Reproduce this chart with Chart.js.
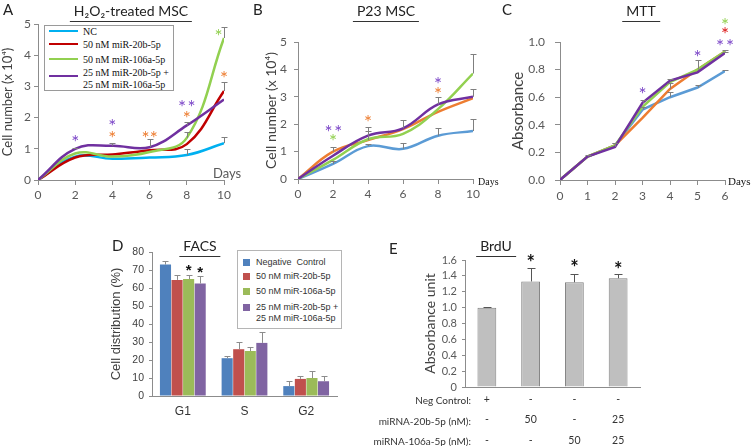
<!DOCTYPE html>
<html>
<head>
<meta charset="utf-8">
<script src="https://cdn.jsdelivr.net/npm/chart.js@4.4.0/dist/chart.umd.min.js"></script>
<style>
body { margin: 0; background: #fff; }
#wrap { position: relative; width: 755px; height: 446px; overflow: hidden; }
canvas { position: absolute; }
.t { position: absolute; white-space: nowrap; line-height: 1; }
</style>
</head>
<body>
<div id="wrap"></div>
<script>
// ---------- data ----------
// A: H2O2-treated MSC, cell number (x 10^4)
const daysAB = [0, 2, 4, 6, 8, 10];
const aNC     = [0, 0.75, 0.68, 0.72, 0.80, 1.18];
const aMir20  = [0, 0.72, 0.82, 0.95, 1.15, 2.85];
const aMir106 = [0, 0.85, 0.75, 0.90, 1.35, 4.55];
const aCombo  = [0, 1.00, 1.10, 1.05, 1.75, 2.58];
const aErrNC     = [0, 0, 0, 0, 0.18, 0.20];
const aErrMir20  = [0, 0, 0, 0, 0, 0.30];
const aErrMir106 = [0, 0, 0, 0, 0.20, 0.35];
const aErrCombo  = [0, 0.04, 0.08, 0.25, 0.10, 0];

// B: P23 MSC
const bNC     = [0, 0.55, 1.20, 1.10, 1.58, 1.75];
const bMir20  = [0, 1.00, 1.42, 1.82, 2.45, 2.95];
const bMir106 = [0, 0.70, 1.45, 1.65, 2.55, 3.85];
const bCombo  = [0, 0.85, 1.58, 1.85, 2.72, 3.00];
const bErrNC     = [0, 0.12, 0.08, 0.20, 0.27, 0.45];
const bErrMir20  = [0, 0.18, 0.33, 0, 0, 0];
const bErrMir106 = [0, 0, 0, 0, 0, 0.70];
const bErrCombo  = [0, 0, 0.32, 0.30, 0.28, 0.27];

// C: MTT absorbance
const daysC = [0, 1, 2, 3, 4, 5, 6];
const cNC     = [0, 0.17, 0.25, 0.51, 0.60, 0.67, 0.79];
const cMir20  = [0, 0.17, 0.25, 0.45, 0.66, 0.80, 0.93];
const cMir106 = [0, 0.17, 0.25, 0.53, 0.71, 0.80, 0.93];
const cCombo  = [0, 0.17, 0.24, 0.56, 0.72, 0.78, 0.92];
const cErrNC     = [0, 0.01, 0.02, 0.02, 0.04, 0.02, 0.01];
const cErrMir20  = [0, 0, 0, 0, 0.04, 0, 0.01];
const cErrMir106 = [0, 0, 0, 0, 0, 0.07, 0];
const cErrCombo  = [0, 0, 0.03, 0.02, 0.01, 0, 0.01];

// D: FACS cell distribution (%)
const phases = ['G1', 'S', 'G2'];
const dNC     = [73, 21, 5.5];
const dMir20  = [64.5, 26, 9.5];
const dMir106 = [65, 25, 10];
const dCombo  = [62.5, 29.5, 8.2];
const dErrNC     = [2, 1.5, 3];
const dErrMir20  = [3, 4, 1.5];
const dErrMir106 = [2, 2, 4];
const dErrCombo  = [4, 6, 3];

// E: BrdU absorbance unit
const negRow    = ['+', '-', '-', '-'];
const mir20Row  = ['-', '50', '-', '25'];
const mir106Row = ['-', '-', '50', '25'];
const eValues = [1.0, 1.33, 1.32, 1.37];
const eErr    = [0.005, 0.17, 0.10, 0.05];

// significance marks: [x, y, colour key]
const starsA = [[2, 1.34, 'p'], [4, 1.84, 'p'], [4, 1.47, 'o'], [5.78, 1.47, 'o'], [6.22, 1.47, 'o'],
                [7.75, 2.44, 'p'], [8.25, 2.44, 'p'], [8, 2.09, 'o'], [9.7, 4.73, 'g'], [10, 3.37, 'o']];
const starsB = [[1.75, 1.85, 'p'], [2.3, 1.85, 'p'], [2, 1.51, 'g'], [4, 2.21, 'o'], [8, 3.6, 'p'], [8, 3.24, 'o']];
const starsC = [[3, 0.65, 'p'], [5, 0.92, 'p'], [6, 1.15, 'g'], [6, 1.08, 'r'], [5.82, 1.0, 'p'], [6.18, 1.0, 'p']];
const starsD = [[2, 0, 71], [3, 0, 70]];   // [dataset, index, y]
const starsE = [[1, 1.62], [2, 1.56], [3, 1.54]];

// ---------- styles ----------
const C_NC_A = 'rgb(0,176,240)', C_RED = 'rgb(192,0,0)';
const C_NC = 'rgb(91,155,213)', C_ORANGE = 'rgb(237,125,49)';
const C_GREEN = 'rgb(146,208,80)', C_PURPLE = 'rgb(112,48,160)';
const starCol = { p: 'rgb(125,72,200)', o: 'rgb(237,125,49)', g: 'rgb(146,208,80)', r: 'rgb(220,25,25)', k: '#111' };

const wrap = document.getElementById('wrap');

// error bars + asterisks, drawn through the chart scales
const marks = {
  id: 'marks',
  afterDatasetsDraw(chart, args, opts) {
    const ctx = chart.ctx, xs = chart.scales.x, ys = chart.scales.y;
    ctx.save();
    ctx.strokeStyle = opts.errColor || '#7f7f7f';
    ctx.lineWidth = 1;
    chart.data.datasets.forEach((ds, di) => {
      if (!ds.err) return;
      const meta = chart.getDatasetMeta(di);
      ds.err.forEach((e, i) => {
        if (!e) return;
        const d = ds.data[i];
        const v = typeof d === 'object' ? d.y : d;
        const px = Math.round(meta.data[i].x) + 0.5;
        const y0 = ys.getPixelForValue(v), y1 = Math.round(ys.getPixelForValue(v + e)) + 0.5;
        const cap = opts.cap || 3;
        ctx.beginPath();
        ctx.moveTo(px, y0); ctx.lineTo(px, y1);
        ctx.moveTo(px - cap, y1); ctx.lineTo(px + cap, y1);
        ctx.stroke();
      });
    });
    ctx.font = opts.starFont || '18px Lato';
    ctx.textAlign = 'center';
    ctx.textBaseline = 'alphabetic';
    const m = ctx.measureText('*');
    const off = (m.actualBoundingBoxAscent - m.actualBoundingBoxDescent) / 2;
    (opts.stars || []).forEach(s => {
      let px, py, col;
      if (opts.byDataset) {
        px = chart.getDatasetMeta(s[0]).data[s[1]].x; py = ys.getPixelForValue(s[2]); col = starCol.k;
      } else {
        px = xs.getPixelForValue(s[0]); py = ys.getPixelForValue(s[1]); col = starCol[s[2] || 'k'];
      }
      ctx.fillStyle = col;
      ctx.fillText('*', px, py + off);
    });
    ctx.restore();
  }
};

function addCanvas(l, t, w, h) {
  const c = document.createElement('canvas');
  c.width = w; c.height = h;
  c.style.left = l + 'px'; c.style.top = t + 'px';
  c.style.width = w + 'px'; c.style.height = h + 'px';
  wrap.appendChild(c);
  return c;
}

function axis(o) {
  const a = {
    type: o.type || 'linear',
    offset: !!o.offset,
    afterFit: s => { if (s.isHorizontal()) s.height = o.size; else s.width = o.size; },
    border: { color: o.line || '#8c8c8c', width: 1 },
    grid: { drawOnChartArea: false, drawTicks: o.tick > 0, tickLength: o.tick || 0, color: o.line || '#8c8c8c' },
    ticks: { padding: o.pad, color: o.color || '#595959', font: o.font, autoSkip: false, maxRotation: 0 },
    title: o.title ? { display: true, text: o.title, color: '#404040', font: o.titleFont, padding: 0 } : { display: false }
  };
  if (o.min !== undefined) { a.min = o.min; a.max = o.max; }
  if (o.step) a.ticks.stepSize = o.step;
  if (o.cb) a.ticks.callback = o.cb;
  return a;
}

function lineSet(xsArr, ys, color, err, order, tension) {
  return {
    data: xsArr.map((x, i) => ({ x: x, y: ys[i] })),
    borderColor: color, borderWidth: 2.5, pointRadius: 0, fill: false,
    tension: tension, err: err, order: order
  };
}

function baseOpts(pad, scales, pl) {
  return {
    responsive: false, animation: false, events: [],
    layout: { padding: pad },
    scales: scales,
    plugins: { legend: { display: false }, tooltip: { enabled: false }, marks: pl }
  };
}

const tickFont = { family: 'Lato', size: 12 };

// ---------- A ----------
new Chart(addCanvas(0, 0, 260, 210), {
  type: 'line',
  data: { datasets: [
    lineSet(daysAB, aNC, C_NC_A, aErrNC, 4, 0.4),
    lineSet(daysAB, aMir20, C_RED, aErrMir20, 3, 0.4),
    lineSet(daysAB, aMir106, C_GREEN, aErrMir106, 2, 0.4),
    lineSet(daysAB, aCombo, C_PURPLE, aErrCombo, 1, 0.4)
  ] },
  options: baseOpts({ left: 0, right: 36, top: 24, bottom: 0 }, {
    x: axis({ min: 0, max: 10, step: 2, size: 30, tick: 5, pad: 3, font: tickFont }),
    y: axis({ min: 0, max: 5, step: 1, size: 38, tick: 4, pad: 3, font: tickFont,
              title: 'Cell number (x 10⁴)', titleFont: { family: 'Lato', size: 13 } })
  }, { stars: starsA, starFont: '19px Lato' }),
  plugins: [marks]
});

// ---------- B ----------
new Chart(addCanvas(250, 0, 260, 210), {
  type: 'line',
  data: { datasets: [
    lineSet(daysAB, bNC, C_NC, bErrNC, 4, 0.4),
    lineSet(daysAB, bMir20, C_ORANGE, bErrMir20, 3, 0.4),
    lineSet(daysAB, bMir106, C_GREEN, bErrMir106, 2, 0.4),
    lineSet(daysAB, bCombo, C_PURPLE, bErrCombo, 1, 0.4)
  ] },
  options: baseOpts({ left: 13, right: 37, top: 42, bottom: 0 }, {
    x: axis({ min: 0, max: 10, step: 2, size: 31, tick: 5, pad: 3, font: tickFont }),
    y: axis({ min: 0, max: 5, step: 1, size: 35, tick: 4, pad: 7, font: tickFont,
              title: 'Cell number (x 10⁴)', titleFont: { family: 'Lato', size: 14 } })
  }, { stars: starsB, starFont: '19px Lato' }),
  plugins: [marks]
});

// ---------- C ----------
new Chart(addCanvas(500, 0, 255, 210), {
  type: 'line',
  data: { datasets: [
    lineSet(daysC, cNC, C_NC, cErrNC, 4, 0),
    lineSet(daysC, cMir20, C_ORANGE, cErrMir20, 3, 0),
    lineSet(daysC, cMir106, C_GREEN, cErrMir106, 2, 0),
    lineSet(daysC, cCombo, C_PURPLE, cErrCombo, 1, 0)
  ] },
  options: baseOpts({ left: 9, right: 30, top: 42, bottom: 0 }, {
    x: axis({ min: 0, max: 6, step: 1, size: 30, tick: 5, pad: 4, font: tickFont }),
    y: axis({ min: 0, max: 1, step: 0.2, size: 51, tick: 5, pad: 10, font: tickFont,
              cb: v => v.toFixed(1),
              title: 'Absorbance', titleFont: { family: 'Lato', size: 15 } })
  }, { stars: starsC, starFont: '19px Lato' }),
  plugins: [marks]
});

// ---------- D ----------
const barD = (vals, color, err) => ({ data: vals, backgroundColor: color, err: err,
  barPercentage: 0.96, categoryPercentage: 0.75 });
new Chart(addCanvas(100, 230, 240, 200), {
  type: 'bar',
  data: { labels: phases, datasets: [
    barD(dNC, 'rgb(79,129,189)', dErrNC),
    barD(dMir20, 'rgb(192,80,77)', dErrMir20),
    barD(dMir106, 'rgb(155,187,89)', dErrMir106),
    barD(dCombo, 'rgb(128,100,162)', dErrCombo)
  ] },
  options: baseOpts({ left: 9, right: 3, top: 22, bottom: 0 }, {
    x: axis({ type: 'category', offset: true, size: 34, tick: 0, pad: 8, color: '#333',
              font: { family: 'Liberation Sans', size: 12 } }),
    y: axis({ min: 0, max: 80, step: 10, size: 43, tick: 3, pad: 5, color: '#404040',
              font: { family: 'Liberation Sans', size: 10.5 },
              title: 'Cell distribution (%)', titleFont: { family: 'Liberation Sans', size: 13 } })
  }, { stars: starsD, byDataset: true, starFont: 'bold 15px Liberation Sans', errColor: '#8c8c8c', cap: 3 }),
  plugins: [marks]
});

// ---------- E ----------
new Chart(addCanvas(400, 230, 250, 216), {
  type: 'bar',
  data: { labels: negRow.map((n, i) => [n, mir20Row[i], mir106Row[i]]), datasets: [
    { data: eValues, err: eErr, backgroundColor: 'rgb(191,191,191)', borderColor: 'rgb(128,128,128)',
      borderWidth: 1, barPercentage: 0.5, categoryPercentage: 0.86 }
  ] },
  options: baseOpts({ left: 22, right: 10, top: 30, bottom: 0 }, {
    x: axis({ type: 'category', offset: true, size: 59, tick: 0, pad: 2, color: '#333',
              font: { family: 'Lato', size: 10.5, lineHeight: 1.95 } }),
    y: axis({ min: 0, max: 1.6, step: 0.2, size: 43, tick: 3, pad: 5,
              font: { family: 'Lato', size: 11 },
              title: 'Absorbance unit', titleFont: { family: 'Lato', size: 14 } })
  }, { stars: starsE, starFont: 'bold 20px Lato', errColor: '#555', cap: 4 }),
  plugins: [marks]
});

// ---------- text: panel letters, titles, legends ----------
function label(text, x, cy, size, family, o) {
  o = o || {};
  const d = document.createElement('div');
  d.className = 't';
  d.textContent = text;
  d.style.font = (o.weight || 'normal') + ' ' + size + 'px ' + family;
  d.style.color = o.color || '#222';
  d.style.left = x + 'px';
  d.style.top = (cy - 0.53 * size) + 'px';
  if (o.align === 'center') d.style.transform = 'translateX(-50%)';
  if (o.align === 'right') d.style.transform = 'translateX(-100%)';
  if (o.underline) { d.style.borderBottom = '1.5px solid #333'; d.style.paddingBottom = (o.ul || 2) + 'px';
                     d.style.paddingLeft = '4px'; d.style.paddingRight = '4px'; }
  (o.parent || wrap).appendChild(d);
  return d;
}

label('A', 3, 8, 15, 'Lato');
label('H₂O₂-treated MSC', 131, 9, 14, 'Lato', { align: 'center', underline: true });
label('B', 253, 8, 15, 'Lato');
label('P23 MSC', 386, 9, 14, 'Lato', { align: 'center', underline: true });
label('C', 502, 8, 15, 'Lato');
label('MTT', 641, 9, 14, 'Lato', { align: 'center', underline: true });
label('D', 112, 244, 15, 'Lato');
label('FACS', 200, 244, 14, 'Lato', { align: 'center', underline: true });
label('E', 389, 247, 15, 'Lato');
label('BrdU', 496, 244, 14, 'Lato', { align: 'center', underline: true });

label('Days', 213, 172, 13, 'Lato', { color: '#595959' });
label('Days', 478, 181, 10, 'Liberation Serif', { color: '#111' });
label('Days', 728, 181, 11, 'Liberation Serif', { color: '#111' });

label('Neg Control:', 471, 399, 10, 'Lato', { align: 'right', color: '#333' });
label('miRNA-20b-5p (nM):', 471, 420, 10, 'Lato', { align: 'right', color: '#333' });
label('miRNA-106a-5p (nM):', 471, 440, 10, 'Lato', { align: 'right', color: '#333' });

// legend A
const legA = document.createElement('div');
legA.style.cssText = 'position:absolute;left:44px;top:25px;width:128px;height:64px;border:1px solid #9a9a9a;background:#fff;';
wrap.appendChild(legA);
const legAItems = [['NC', C_NC_A, 5], ['50 nM miR-20b-5p', C_RED, 18], ['50 nM miR-106a-5p', C_GREEN, 33],
                   ['25 nM miR-20b-5p +', C_PURPLE, 50]];
legAItems.forEach(it => {
  const ln = document.createElement('div');
  ln.style.cssText = 'position:absolute;left:4px;width:29px;height:2px;top:' + (it[2] - 1) + 'px;background:' + it[1];
  legA.appendChild(ln);
  label(it[0], 38, it[2] - (it[0].endsWith('+') ? 4 : 0), 10, 'Liberation Serif', { parent: legA, color: '#111' });
});
label('25 nM miR-106a-5p', 38, 58, 10, 'Liberation Serif', { parent: legA, color: '#111' });

// legend D
const legD = document.createElement('div');
legD.style.cssText = 'position:absolute;left:237px;top:250px;width:103px;height:77px;border:1px solid #b5b5b5;background:#fff;';
wrap.appendChild(legD);
const legDItems = [['Negative  Control', 'rgb(79,129,189)', 11], ['50 nM miR-20b-5p', 'rgb(192,80,77)', 25],
                   ['50 nM miR-106a-5p', 'rgb(155,187,89)', 40], ['25 nM miR-20b-5p +', 'rgb(128,100,162)', 56]];
legDItems.forEach(it => {
  const sq = document.createElement('div');
  sq.style.cssText = 'position:absolute;left:5px;width:7px;height:7px;top:' + (it[2] - 3.5) + 'px;background:' + it[1];
  legD.appendChild(sq);
  label(it[0].replace('  ', '\u00a0 '), 18, it[2], 9, 'Liberation Sans', { parent: legD, color: '#333' });
});
label('25 nM miR-106a-5p', 18, 67, 9, 'Liberation Sans', { parent: legD, color: '#333' });
</script>
</body>
</html>
